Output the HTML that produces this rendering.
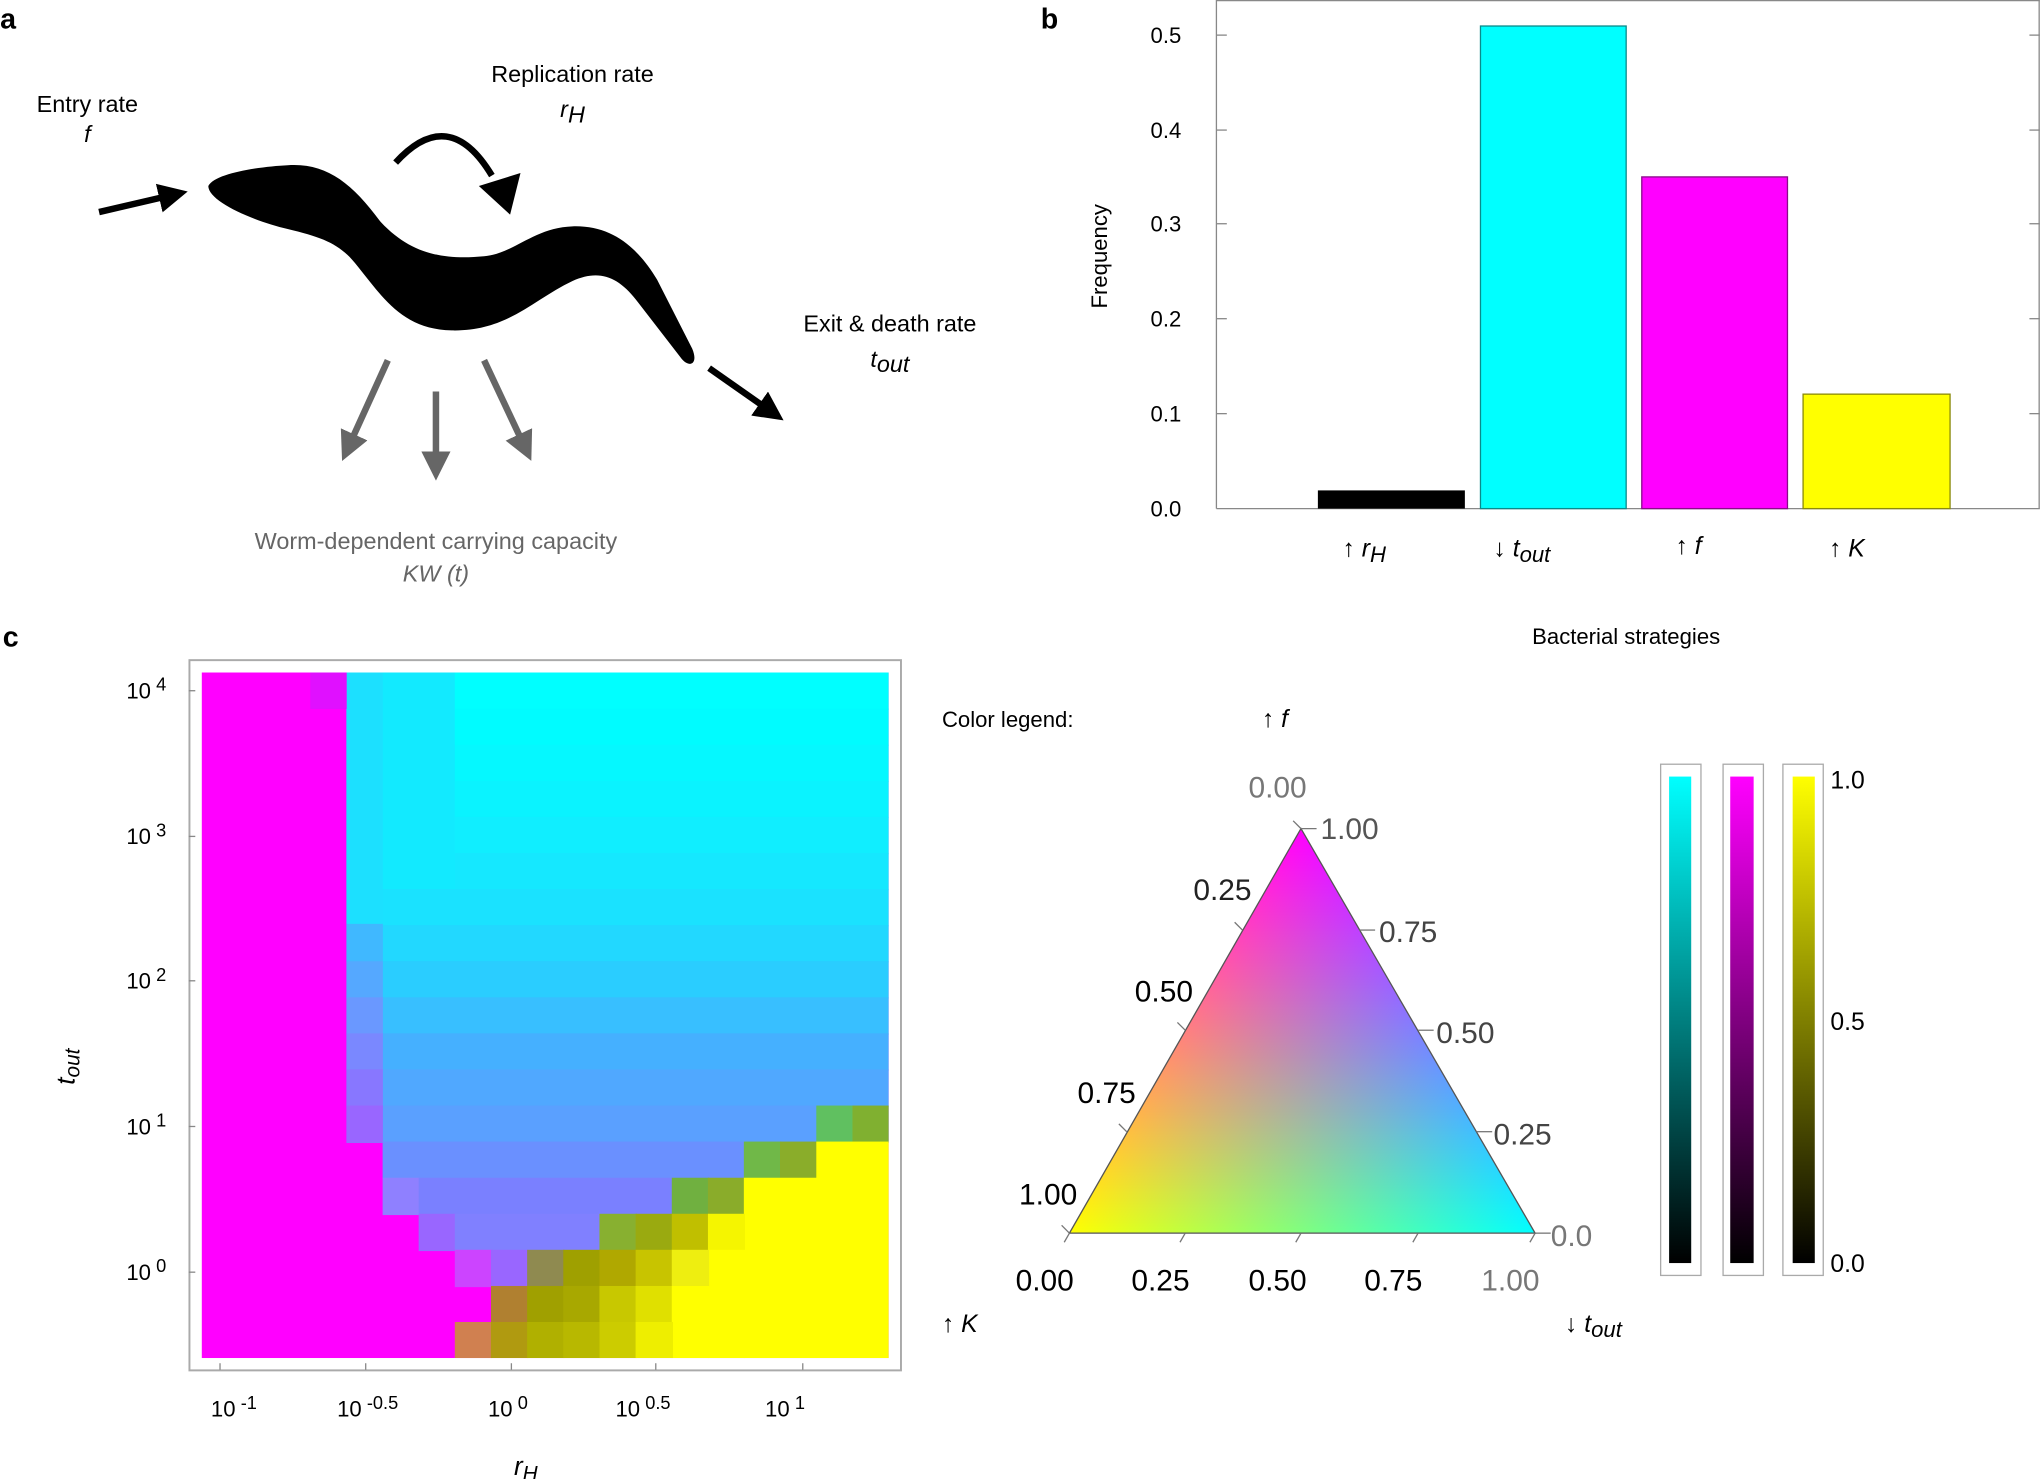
<!DOCTYPE html>
<html><head><meta charset="utf-8"><style>
html,body{margin:0;padding:0;background:#fff;}
svg{display:block;}
text{font-family:"Liberation Sans",Arial,sans-serif;}
.bl{mix-blend-mode:screen;}
</style></head><body>
<svg width="2040" height="1479" viewBox="0 0 1568 1137" xmlns="http://www.w3.org/2000/svg">
<defs>
<marker id="ah" markerWidth="4.5" markerHeight="4.5" refX="2" refY="2.25" orient="auto" markerUnits="strokeWidth"><path d="M0,0 L4.5,2.25 L0,4.5 Z" fill="#000"/></marker>
<marker id="ahg" markerWidth="4.5" markerHeight="4.5" refX="2" refY="2.25" orient="auto" markerUnits="strokeWidth"><path d="M0,0 L4.5,2.25 L0,4.5 Z" fill="#666"/></marker>
<linearGradient id="gR" gradientUnits="userSpaceOnUse" x1="911" y1="792.5" x2="1180" y2="948"><stop offset="0" stop-color="#f00"/><stop offset="1" stop-color="#000"/></linearGradient>
<linearGradient id="gG" gradientUnits="userSpaceOnUse" x1="1001" y1="948" x2="1001" y2="637"><stop offset="0" stop-color="#0f0"/><stop offset="1" stop-color="#000"/></linearGradient>
<linearGradient id="gB" gradientUnits="userSpaceOnUse" x1="1090" y1="792.5" x2="822" y2="948"><stop offset="0" stop-color="#00f"/><stop offset="1" stop-color="#000"/></linearGradient>
<linearGradient id="cbC" x1="0" y1="0" x2="0" y2="1"><stop offset="0" stop-color="#0ff"/><stop offset="1" stop-color="#000"/></linearGradient>
<linearGradient id="cbM" x1="0" y1="0" x2="0" y2="1"><stop offset="0" stop-color="#f0f"/><stop offset="1" stop-color="#000"/></linearGradient>
<linearGradient id="cbY" x1="0" y1="0" x2="0" y2="1"><stop offset="0" stop-color="#ff0"/><stop offset="1" stop-color="#000"/></linearGradient>
</defs>

<!-- Panel a -->
<text x="0" y="22" font-size="22" font-weight="bold">a</text>
<text x="67" y="86" font-size="18" text-anchor="middle">Entry rate</text>
<text x="67" y="109" font-size="18" text-anchor="middle" font-style="italic">f</text>
<text x="440" y="63" font-size="18" text-anchor="middle">Replication rate</text>
<text x="440" y="90" font-size="18" text-anchor="middle" font-style="italic">r<tspan dy="4">H</tspan></text>
<text x="684" y="255" font-size="18" text-anchor="middle">Exit &amp; death rate</text>
<text x="684" y="282" font-size="18" text-anchor="middle" font-style="italic">t<tspan dy="4">out</tspan></text>
<text x="335" y="422" font-size="18" text-anchor="middle" fill="#666">Worm-dependent carrying capacity</text>
<text x="335" y="447" font-size="18" text-anchor="middle" fill="#666" font-style="italic">KW (t)</text>
<path d="M160,143 C165,133 200,128 221,127 C250,125 270,140 292,170 C315,195 340,200 372,197 C395,195 410,175 440,174 C470,173 490,190 505,215 L532,268 C537,280 530,283 524,276 L490,232 C475,212 460,207 440,216 C410,230 390,255 347,254 C310,253 295,230 275,205 C262,188 250,183 221,176 C195,170 160,155 160,143 Z" fill="#000"/>
<line x1="76" y1="163" x2="132" y2="150" stroke="#000" stroke-width="5" marker-end="url(#ah)"/>
<path d="M304,125 Q345,80 378,135" fill="none" stroke="#000" stroke-width="5"/>
<polygon points="368,143 400,133 392,165" fill="#000"/>
<line x1="545" y1="283" x2="592" y2="316" stroke="#000" stroke-width="5" marker-end="url(#ah)"/>
<line x1="298" y1="277" x2="268" y2="343" stroke="#666" stroke-width="5" marker-end="url(#ahg)"/>
<line x1="335" y1="301" x2="335" y2="357" stroke="#666" stroke-width="5" marker-end="url(#ahg)"/>
<line x1="372" y1="277" x2="403" y2="343" stroke="#666" stroke-width="5" marker-end="url(#ahg)"/>

<!-- Panel b -->
<text x="800" y="22" font-size="22" font-weight="bold">b</text>
<g stroke="#888" stroke-width="1" fill="none">
<line x1="935" y1="0" x2="935" y2="391"/>
<line x1="935" y1="0.5" x2="1568" y2="0.5"/>
<line x1="1567.5" y1="0" x2="1567.5" y2="391"/>
<line x1="935" y1="391" x2="1568" y2="391"/>
</g>
<rect x="1013" y="377" width="113" height="14" fill="#000"/>
<rect x="1138" y="20" width="112" height="371" fill="#0ff" stroke="#0a8a8a" stroke-width="1"/>
<rect x="1262" y="136" width="112" height="255" fill="#f0f" stroke="#8a0a8a" stroke-width="1"/>
<rect x="1386" y="303" width="113" height="88" fill="#ff0" stroke="#8a8a0a" stroke-width="1"/>
<g stroke="#888" stroke-width="1">
<line x1="935" y1="27" x2="943" y2="27"/><line x1="935" y1="100" x2="943" y2="100"/><line x1="935" y1="172" x2="943" y2="172"/><line x1="935" y1="245" x2="943" y2="245"/><line x1="935" y1="318" x2="943" y2="318"/>
<line x1="1568" y1="27" x2="1560" y2="27"/><line x1="1568" y1="100" x2="1560" y2="100"/><line x1="1568" y1="172" x2="1560" y2="172"/><line x1="1568" y1="245" x2="1560" y2="245"/><line x1="1568" y1="318" x2="1560" y2="318"/>
</g>
<g font-size="17" text-anchor="end">
<text x="908" y="397">0.0</text><text x="908" y="324">0.1</text><text x="908" y="251">0.2</text><text x="908" y="178">0.3</text><text x="908" y="106">0.4</text><text x="908" y="33">0.5</text>
</g>
<text transform="translate(851,197) rotate(-90)" font-size="17" text-anchor="middle">Frequency</text>
<g font-size="19" font-style="italic">
<text x="1032" y="428">↑ r<tspan font-size="17" dy="4">H</tspan></text>
<text x="1148" y="428">↓ t<tspan font-size="17" dy="4">out</tspan></text>
<text x="1288" y="426">↑ f</text>
<text x="1406" y="428">↑ K</text>
</g>

<!-- Panel c -->
<text x="2" y="497" font-size="22" font-weight="bold">c</text>
<text x="1250" y="495" font-size="17" text-anchor="middle">Bacterial strategies</text>
<rect x="145.5" y="507.5" width="547" height="546" fill="none" stroke="#aaa" stroke-width="1.5"/>
<rect x="155" y="517" width="528" height="527" fill="#f0f"/>
<rect x="266.2" y="517" width="416.8" height="28.7" fill="#00ffff"/>
<rect x="266.2" y="544.7" width="416.8" height="28.7" fill="#00fcff"/>
<rect x="266.2" y="572.5" width="416.8" height="28.7" fill="#05f8ff"/>
<rect x="266.2" y="600.2" width="416.8" height="28.7" fill="#0af3ff"/>
<rect x="266.2" y="628" width="416.8" height="28.7" fill="#10eeff"/>
<rect x="266.2" y="655.7" width="416.8" height="28.7" fill="#15e8ff"/>
<rect x="266.2" y="683.4" width="416.8" height="28.7" fill="#1ae2ff"/>
<rect x="266.2" y="711.2" width="416.8" height="28.7" fill="#22d8ff"/>
<rect x="266.2" y="738.9" width="416.8" height="28.7" fill="#2acdff"/>
<rect x="266.2" y="766.7" width="416.8" height="28.7" fill="#38bfff"/>
<rect x="266.2" y="794.4" width="416.8" height="28.7" fill="#45b0ff"/>
<rect x="266.2" y="822.1" width="416.8" height="28.7" fill="#50a8ff"/>
<rect x="266.2" y="849.9" width="416.8" height="28.7" fill="#5aa0ff"/>
<rect x="266.2" y="517" width="83.3" height="166.4" fill="#12eaff"/>
<rect x="266.2" y="517" width="28" height="193" fill="#1ce0ff"/>
<rect x="266.2" y="710.2" width="28" height="28.7" fill="#40b8ff"/>
<rect x="266.2" y="738.9" width="28" height="28.7" fill="#55a8ff"/>
<rect x="266.2" y="766.7" width="28" height="28.7" fill="#6a98ff"/>
<rect x="266.2" y="794.4" width="28" height="28.7" fill="#7a88ff"/>
<rect x="266.2" y="822.1" width="28" height="28.7" fill="#8877ff"/>
<rect x="266.2" y="849.9" width="28" height="28.7" fill="#9966ff"/>
<rect x="238.4" y="517" width="28" height="28" fill="#e010ff"/>
<rect x="627.4" y="849.9" width="28.7" height="28.7" fill="#60c060"/>
<rect x="655.2" y="849.9" width="27.8" height="28.7" fill="#80b030"/>
<rect x="294" y="877.6" width="278" height="28.7" fill="#6a90ff"/>
<rect x="571.7" y="877.6" width="28.7" height="28.7" fill="#70b848"/>
<rect x="599.5" y="877.6" width="28.7" height="28.7" fill="#8aad2a"/>
<rect x="627.4" y="877.6" width="55.6" height="166.4" fill="#ffff00"/>
<rect x="294" y="905.4" width="28.7" height="28.7" fill="#8f80ff"/>
<rect x="321.7" y="905.4" width="195.3" height="28.7" fill="#7a80ff"/>
<rect x="516.3" y="905.4" width="28.7" height="28.7" fill="#70b040"/>
<rect x="544.1" y="905.4" width="28.7" height="28.7" fill="#8aac2a"/>
<rect x="571.7" y="905.4" width="56" height="138.6" fill="#ffff00"/>
<rect x="321.7" y="933.1" width="28.7" height="28.7" fill="#9966ff"/>
<rect x="349.5" y="933.1" width="111.9" height="28.7" fill="#8080ff"/>
<rect x="460.7" y="933.1" width="28.7" height="28.7" fill="#88b030"/>
<rect x="488.5" y="933.1" width="28.7" height="28.7" fill="#9aaa10"/>
<rect x="516.3" y="933.1" width="28.7" height="28.7" fill="#c0bf00"/>
<rect x="544.1" y="933.1" width="28.5" height="28.7" fill="#f5f500"/>
<rect x="544.1" y="960.8" width="28.5" height="83.2" fill="#ffff00"/>
<rect x="349.5" y="960.8" width="28.7" height="28.7" fill="#cc44ff"/>
<rect x="377.3" y="960.8" width="28.7" height="28.7" fill="#9966ff"/>
<rect x="405.1" y="960.8" width="28.7" height="28.7" fill="#8f8a50"/>
<rect x="432.9" y="960.8" width="28.7" height="28.7" fill="#9fa000"/>
<rect x="460.7" y="960.8" width="28.7" height="28.7" fill="#b0a800"/>
<rect x="488.5" y="960.8" width="28.7" height="28.7" fill="#c8c400"/>
<rect x="516.3" y="960.8" width="28.7" height="28.7" fill="#eeee10"/>
<rect x="377.3" y="988.6" width="28.7" height="28.7" fill="#b08030"/>
<rect x="405.1" y="988.6" width="28.7" height="28.7" fill="#a0a000"/>
<rect x="432.9" y="988.6" width="28.7" height="28.7" fill="#a8a800"/>
<rect x="460.7" y="988.6" width="28.7" height="28.7" fill="#c8c800"/>
<rect x="488.5" y="988.6" width="28.7" height="28.7" fill="#e0e000"/>
<rect x="516.3" y="988.6" width="28.7" height="55.4" fill="#ffff00"/>
<rect x="349.5" y="1016.3" width="28.7" height="27.7" fill="#d08050"/>
<rect x="377.3" y="1016.3" width="28.7" height="27.7" fill="#b09a10"/>
<rect x="405.1" y="1016.3" width="28.7" height="27.7" fill="#b0b000"/>
<rect x="432.9" y="1016.3" width="28.7" height="27.7" fill="#b8b800"/>
<rect x="460.7" y="1016.3" width="28.7" height="27.7" fill="#cccc00"/>
<rect x="488.5" y="1016.3" width="28.7" height="27.7" fill="#eeee00"/>
<g stroke="#888" stroke-width="1">
<line x1="145" y1="531" x2="150" y2="531"/><line x1="145" y1="643" x2="150" y2="643"/><line x1="145" y1="754" x2="150" y2="754"/><line x1="145" y1="866" x2="150" y2="866"/><line x1="145" y1="978" x2="150" y2="978"/>
<line x1="169" y1="1053" x2="169" y2="1048"/><line x1="281" y1="1053" x2="281" y2="1048"/><line x1="393" y1="1053" x2="393" y2="1048"/><line x1="504" y1="1053" x2="504" y2="1048"/><line x1="617" y1="1053" x2="617" y2="1048"/>
</g>
<g font-size="17">
<text x="97" y="537">10<tspan font-size="14" dx="4" dy="-6">4</tspan></text>
<text x="97" y="649">10<tspan font-size="14" dx="4" dy="-6">3</tspan></text>
<text x="97" y="760">10<tspan font-size="14" dx="4" dy="-6">2</tspan></text>
<text x="97" y="872">10<tspan font-size="14" dx="4" dy="-6">1</tspan></text>
<text x="97" y="984">10<tspan font-size="14" dx="4" dy="-6">0</tspan></text>
<text x="162" y="1089">10<tspan font-size="14" dx="4" dy="-6">-1</tspan></text>
<text x="259" y="1089">10<tspan font-size="14" dx="4" dy="-6">-0.5</tspan></text>
<text x="375" y="1089">10<tspan font-size="14" dx="4" dy="-6">0</tspan></text>
<text x="473" y="1089">10<tspan font-size="14" dx="4" dy="-6">0.5</tspan></text>
<text x="588" y="1089">10<tspan font-size="14" dx="4" dy="-6">1</tspan></text>
</g>
<text transform="translate(57,820) rotate(-90)" font-size="20" font-style="italic" text-anchor="middle">t<tspan font-size="16" dy="4">out</tspan></text>
<text x="395" y="1134" font-size="20" font-style="italic">r<tspan font-size="16" dy="4">H</tspan></text>

<text x="724" y="559" font-size="17">Color legend:</text>
<text x="970" y="559" font-size="19" font-style="italic">↑ f</text>
<text x="724" y="1024" font-size="19" font-style="italic">↑ K</text>
<text x="1203" y="1024" font-size="19" font-style="italic">↓ t<tspan font-size="17" dy="4">out</tspan></text>
<g style="isolation:isolate">
<polygon points="1000,637 822,948 1180,948" fill="#000"/>
<polygon class="bl" points="1000,637 822,948 1180,948" fill="url(#gR)"/>
<polygon class="bl" points="1000,637 822,948 1180,948" fill="url(#gG)"/>
<polygon class="bl" points="1000,637 822,948 1180,948" fill="url(#gB)"/>
</g>
<polygon points="1000,637 822,948 1180,948" fill="none" stroke="#555" stroke-width="1"/>
<g stroke="#777" stroke-width="1">
<line x1="1000" y1="637" x2="1012" y2="637"/><line x1="1045" y1="715" x2="1057" y2="715"/><line x1="1090" y1="792" x2="1102" y2="792"/><line x1="1135" y1="870" x2="1147" y2="870"/><line x1="1180" y1="948" x2="1192" y2="948"/>
<line x1="822" y1="948" x2="818" y2="955"/><line x1="911" y1="948" x2="907" y2="955"/><line x1="1000" y1="948" x2="996" y2="955"/><line x1="1090" y1="948" x2="1086" y2="955"/><line x1="1180" y1="948" x2="1176" y2="955"/>
<line x1="822" y1="948" x2="816" y2="942"/><line x1="866" y1="870" x2="860" y2="864"/><line x1="911" y1="792" x2="905" y2="786"/><line x1="955" y1="715" x2="949" y2="709"/><line x1="1000" y1="637" x2="994" y2="631"/>
</g>
<g font-size="23">
<text x="982" y="613" fill="#777" text-anchor="middle">0.00</text>
<text x="1015" y="645" fill="#555">1.00</text>
<text x="1060" y="724" fill="#444">0.75</text>
<text x="1104" y="802" fill="#444">0.50</text>
<text x="1148" y="880" fill="#444">0.25</text>
<text x="1192" y="958" fill="#777">0.0</text>
<text x="962" y="692" fill="#222" text-anchor="end">0.25</text>
<text x="917" y="770" fill="#000" text-anchor="end">0.50</text>
<text x="873" y="848" fill="#000" text-anchor="end">0.75</text>
<text x="828" y="926" fill="#000" text-anchor="end">1.00</text>
<text x="803" y="992" fill="#000" text-anchor="middle">0.00</text>
<text x="892" y="992" fill="#000" text-anchor="middle">0.25</text>
<text x="982" y="992" fill="#000" text-anchor="middle">0.50</text>
<text x="1071" y="992" fill="#000" text-anchor="middle">0.75</text>
<text x="1161" y="992" fill="#777" text-anchor="middle">1.00</text>
</g>

<g fill="none" stroke="#aaa" stroke-width="1">
<rect x="1276.5" y="587.5" width="31" height="393"/>
<rect x="1324.5" y="587.5" width="31" height="393"/>
<rect x="1370.5" y="587.5" width="31" height="393"/>
</g>
<rect x="1283" y="597" width="17" height="374" fill="url(#cbC)"/>
<rect x="1330" y="597" width="18" height="374" fill="url(#cbM)"/>
<rect x="1378" y="597" width="17" height="374" fill="url(#cbY)"/>
<g font-size="19">
<text x="1407" y="606">1.0</text>
<text x="1407" y="792">0.5</text>
<text x="1407" y="978">0.0</text>
</g>
</svg>
</body></html>
